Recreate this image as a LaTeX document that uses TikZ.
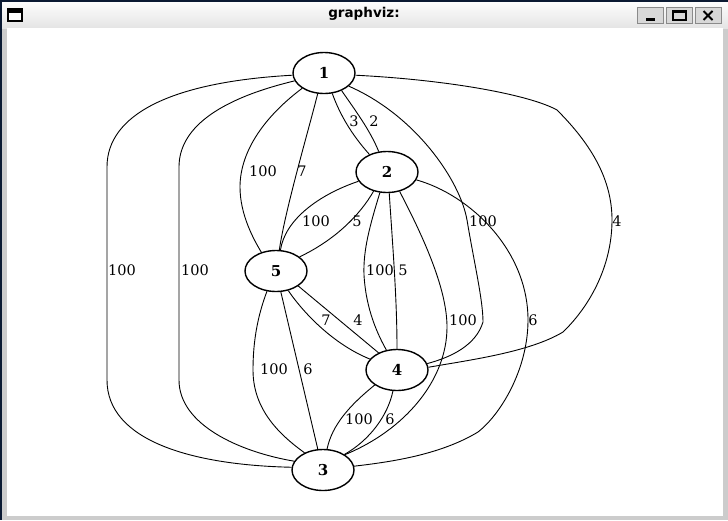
\documentclass[tikz,border=0pt]{standalone}
\usepackage{fontspec}
\setmainfont{DejaVu Serif}
\newfontfamily\titlefont{DejaVu Sans}
\usetikzlibrary{shapes.geometric}
\definecolor{framegray}{HTML}{CCCCCC}
\definecolor{framenavy}{HTML}{0B1A33}
\definecolor{titlebot}{HTML}{E4E4E4}
\definecolor{btnfill}{HTML}{D8D8D8}
\definecolor{btnedge}{HTML}{8A8A8A}
\begin{document}
\begin{tikzpicture}[x=1pt,y=-1pt,
  gnode/.style={ellipse, draw, fill=white, line width=1.4pt, minimum width=62pt, minimum height=41pt, inner sep=0pt, font=\fontsize{15}{16}\selectfont\bfseries},
  edge/.style={line width=0.9pt},
  elab/.style={font=\fontsize{14.5}{16}\selectfont, inner sep=0pt},
  winbtn/.style={fill=btnfill, draw=btnedge, line width=0.8pt}]
\useasboundingbox (0,0) rectangle (728,520);
% window chrome
\fill[framegray] (0,0) rectangle (728,520);
\shade[top color=white, bottom color=titlebot] (0,0) rectangle (728,28);
\fill[framenavy] (0,0) rectangle (728,1.5);
\fill[framenavy] (0,0) rectangle (2,520);
\fill[white] (7,28) rectangle (723,516);
\draw[line width=1.2pt, fill=white] (8,9) rectangle (22,21);
\fill[black] (8,9) rectangle (22,12.5);
\node[font=\titlefont\bfseries\fontsize{13.5}{15}\selectfont, inner sep=0pt] (title) at (364,14) {graphviz:};
\draw[winbtn] (637,7.5) rectangle (663,23.5);
\draw[winbtn] (666,7.5) rectangle (692,23.5);
\draw[winbtn] (695,7.5) rectangle (721,23.5);
\fill[black] (646,18) rectangle (655,20.5);
\draw[line width=1.2pt] (673,11) rectangle (686,20);
\fill[black] (673,10.4) rectangle (686,12.5);
\draw[line width=2pt] (703.5,11) -- (712.5,20) (712.5,11) -- (703.5,20);
% nodes
\node[gnode] (n1) at (324,73) {1};
\node[gnode] (n2) at (387,172) {2};
\node[gnode] (n5) at (276,271) {5};
\node[gnode] (n4) at (397,370) {4};
\node[gnode] (n3) at (323,470) {3};
% edges
\draw[edge] (n1.184) .. controls (170,82) and (107,115) .. (107,167) -- (107,380) .. controls (107,440) and (190,465) .. (n3.175);
\draw[edge] (n1.195) .. controls (215,100) and (179,130) .. (179,167) -- (179,380) .. controls (179,425) and (240,452) .. (n3.163);
\draw[edge] (n1.215) .. controls (260,120) and (240,155) .. (240,187) .. controls (240,215) and (254,240) .. (n5.128);
\draw[edge] (n1.253) .. controls (310,125) and (285,210) .. (n5.81);
\draw[edge] (n1.292) .. controls (340,115) and (352,135) .. (n2.135);
\draw[edge] (n1.315) .. controls (355,110) and (370,130) .. (n2.112);
\draw[edge] (n1.332) .. controls (415,115) and (460,180) .. (467,220) .. controls (474,262) and (483,300) .. (483,322) .. controls (476,345) and (452,357) .. (n4.12);
\draw[edge] (n1.356) .. controls (450,80) and (530,95) .. (557,110) .. controls (592,145) and (612,180) .. (612,220) .. controls (612,268) and (588,308) .. (563,332) .. controls (530,352) and (470,360) .. (n4.5);
\draw[edge] (n2.198) .. controls (318,195) and (285,220) .. (n5.78);
\draw[edge] (n2.235) .. controls (360,215) and (335,240) .. (n5.31);
\draw[edge] (n2.251) .. controls (370,225) and (363,250) .. (364,275) .. controls (366,310) and (378,335) .. (n4.118);
\draw[edge] (n2.276) .. controls (393,250) and (397,300) .. (n4.90);
\draw[edge] (n2.303) .. controls (425,240) and (447,290) .. (447,327) .. controls (447,380) and (405,430) .. (n3.35);
\draw[edge] (n2.345) .. controls (470,195) and (528,250) .. (528,320) .. controls (528,370) and (500,415) .. (478,432) .. controls (440,455) and (390,462) .. (n3.7);
\draw[edge] (n5.302) .. controls (305,315) and (335,345) .. (n4.158);
\draw[edge] (n5.326) -- (n4.137);
\draw[edge] (n5.246) .. controls (258,315) and (253,340) .. (253,370) .. controls (253,410) and (280,435) .. (n3.137);
\draw[edge] (n5.283) -- (n3.104);
\draw[edge] (n4.214) .. controls (350,405) and (332,425) .. (n3.79);
\draw[edge] (n4.259) .. controls (388,415) and (370,440) .. (n3.36);
% edge labels
\node[elab] (l13a) at (122,270) {100};
\node[elab] (l13b) at (195,270) {100};
\node[elab] (l15a) at (263,171) {100};
\node[elab] (l15b) at (302,171) {7};
\node[elab] (l12a) at (354,121) {3};
\node[elab] (l12b) at (374,121) {2};
\node[elab] (l14a) at (483,221) {100};
\node[elab] (l14b) at (617,221) {4};
\node[elab] (l25a) at (316,221) {100};
\node[elab] (l25b) at (357,221) {5};
\node[elab] (l24a) at (380,270) {100};
\node[elab] (l24b) at (403,270) {5};
\node[elab] (l23a) at (463,320) {100};
\node[elab] (l23b) at (533,320) {6};
\node[elab] (l54a) at (326,320) {7};
\node[elab] (l54b) at (358,320) {4};
\node[elab] (l53a) at (274,369) {100};
\node[elab] (l53b) at (308,369) {6};
\node[elab] (l43a) at (359,419) {100};
\node[elab] (l43b) at (390,419) {6};
\end{tikzpicture}
\end{document}
